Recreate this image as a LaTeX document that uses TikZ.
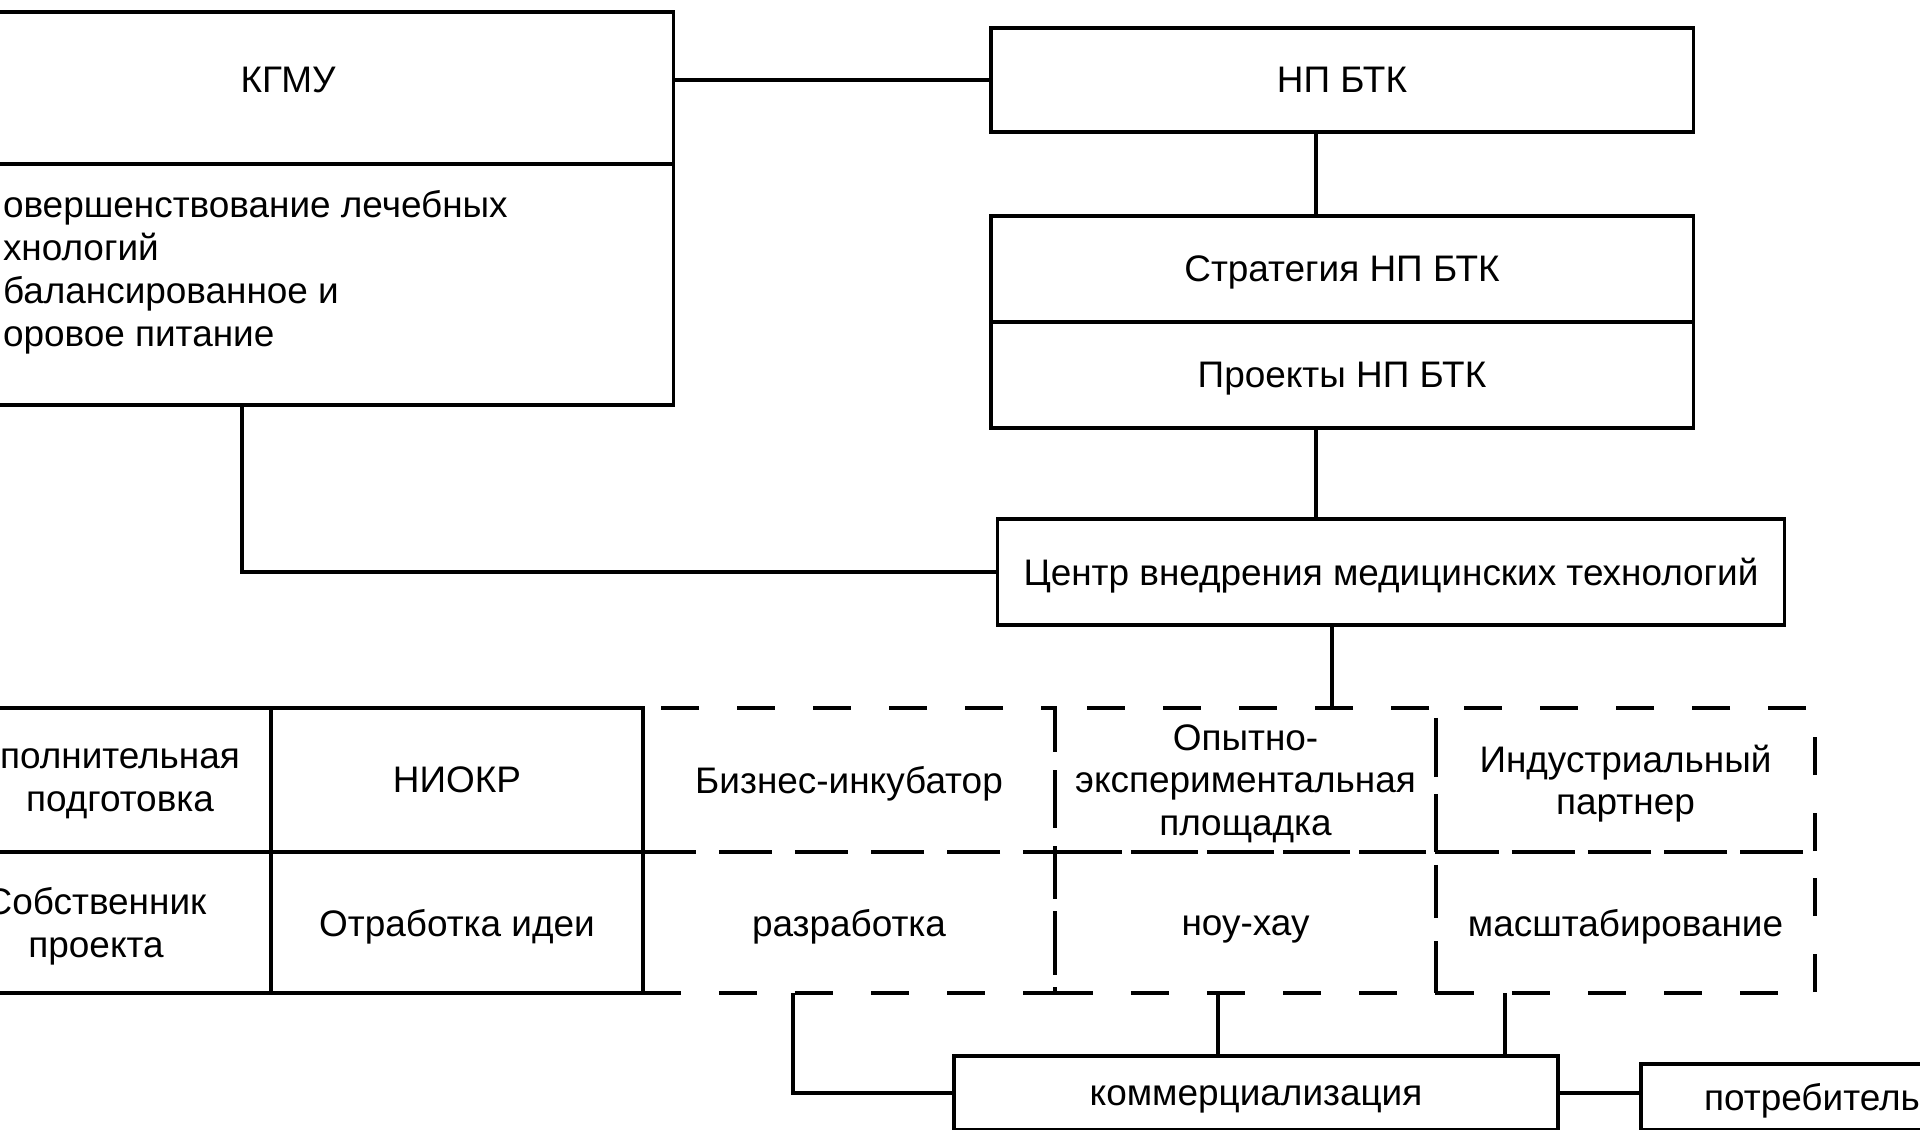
\documentclass[tikz,border=0pt]{standalone}
\usepackage{fontspec}
\setmainfont{Liberation Sans}
\begin{document}
\begin{tikzpicture}[x=0.01cm,y=-0.01cm,line width=0.034cm,
    font=\fontsize{10.5}{12}\selectfont,
    box/.style={draw,rectangle,inner sep=0pt,outer sep=0pt,align=center,text depth=0pt},
    dashbox/.style={box,dash pattern=on 0.38cm off 0.38cm},
    lowtext/.style={text height=0.73em},
    txt/.style={inner sep=0pt,outer sep=0pt}]
    \useasboundingbox (0,0) rectangle (1920,1130);
    \clip (0,0) rectangle (1920,1130);

    % Drawing box KGMU with its body
    \node[box,minimum width=7.70cm,minimum height=1.52cm,text depth=4.6pt] (kgmu) at (288,88) {КГМУ};%
    \node[box,minimum width=7.70cm,minimum height=2.41cm,anchor=north] (kgmubody) at (kgmu.south) {};%
    \node[txt,align=left,anchor=west,font=\fontsize{10.5}{12.2}\selectfont] (kgmutext) at (3,272) {овершенствование лечебных\\хнологий\\балансированное и\\оровое питание};%

    % Drawing boxes NP BTK
    \node[box,minimum width=7.02cm,minimum height=1.04cm] (npbtk) at (1342,80) {НП БТК};%
    \node[box,minimum width=7.02cm,minimum height=1.06cm] (strat) at (1342,269) {Стратегия НП БТК};%
    \node[box,minimum width=7.02cm,minimum height=1.06cm] (proj) at (1342,375) {Проекты НП БТК};%
    \node[box,minimum width=7.86cm,minimum height=1.06cm] (cvmt) at (1391,572) {Центр внедрения медицинских технологий};%

    % Solid table
    \node[box,minimum width=3.02cm,minimum height=1.44cm] (dop) at (120,780) {полнительная\\подготовка};%
    \node[box,minimum width=3.50cm,minimum height=1.41cm] (own) at (96,922.5) {Собственник\\проекта};%
    \node[box,minimum width=3.72cm,minimum height=1.44cm] (niokr) at (457,780) {НИОКР};%
    \node[box,minimum width=3.72cm,minimum height=1.41cm] (idea) at (457,922.5) {Отработка идеи};%

    % Dashed table
    \node[dashbox,minimum width=4.12cm,minimum height=1.44cm] (incub) at (849,780) {Бизнес-инкубатор};%
    \node[dashbox,minimum width=3.81cm,minimum height=1.44cm] (pilot) at (1245.5,780) {Опытно-\\экспериментальная\\площадка};%
    \node[dashbox,minimum width=3.79cm,minimum height=1.44cm] (partner) at (1625.5,780) {Индустриальный\\партнер};%
    \node[dashbox,minimum width=4.12cm,minimum height=1.41cm] (dev) at (849,922.5) {разработка};%
    \node[dashbox,lowtext,minimum width=3.81cm,minimum height=1.41cm] (knowhow) at (1245.5,922.5) {ноу-хау};%
    \node[dashbox,minimum width=3.79cm,minimum height=1.41cm] (scale) at (1625.5,922.5) {масштабирование};%

    % Drawing boxes commercialization and consumer
    \node[box,lowtext,minimum width=6.04cm,minimum height=0.74cm] (comm) at (1256,1093) {коммерциализация};%
    \node[box,minimum width=3.42cm,minimum height=0.66cm] (cons) at (1812,1097) {потребитель};%

    % Points where the lines drop
    \coordinate (spineA) at (1316,0);
    \coordinate (spineB) at (1332,0);
    \coordinate (kdrop) at (242,0);
    \coordinate (devdrop) at (793,0);
    \coordinate (knowdrop) at (1218,0);
    \coordinate (scaledrop) at (1505,0);

    % Drawing lines
    \draw (kgmu.east |- npbtk.west) -- (npbtk.west);%
    \draw (npbtk.south -| spineA) -- (strat.north -| spineA);%
    \draw (proj.south -| spineA) -- (cvmt.north -| spineA);%
    \draw (kgmubody.south -| kdrop) |- (cvmt.west);%
    \draw (cvmt.south -| spineB) -- (pilot.north -| spineB);%
    \draw (dev.south -| devdrop) |- (comm.west);%
    \draw (knowhow.south -| knowdrop) -- (comm.north -| knowdrop);%
    \draw (scale.south -| scaledrop) -- (comm.north -| scaledrop);%
    \draw (comm.east) -- (comm.east -| cons.west);%
\end{tikzpicture}
\end{document}
